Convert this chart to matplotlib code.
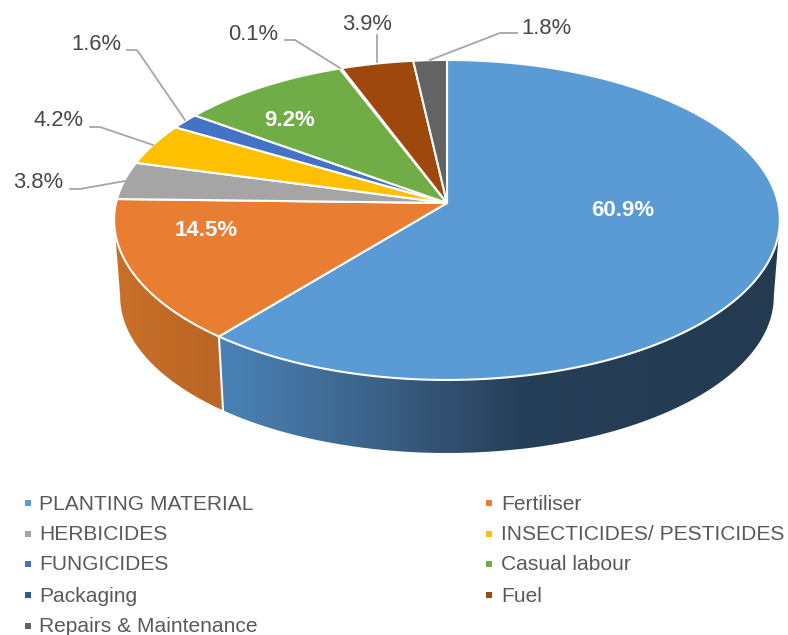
import numpy as np
import matplotlib
matplotlib.use('Agg')
import matplotlib.pyplot as plt
from matplotlib.colors import LinearSegmentedColormap
from matplotlib.patches import Polygon

categories = ['PLANTING MATERIAL', 'Fertiliser', 'HERBICIDES', 'INSECTICIDES/ PESTICIDES', 'FUNGICIDES',
              'Casual labour', 'Packaging', 'Fuel', 'Repairs & Maintenance']
shares = [60.9, 14.5, 3.8, 4.2, 1.6, 9.2, 0.1, 3.9, 1.8]
colors = ['#5b9bd5', '#e97d31', '#a5a5a5', '#ffc000', '#4472c4', '#70ad47', '#255e91', '#9e480e', '#636363']

# label text position, then leader line points (pixels)
outerLabels = {
    2: ((38, 183), [(70, 189), (80, 189), (125, 181)]),
    3: ((59, 121), [(90, 127), (100, 127), (153, 145)]),
    4: ((96, 44), [(127, 50), (137, 50), (185, 120)]),
    6: ((253, 35), [(285, 40), (295, 40), (340, 68)]),
    7: ((367, 25), [(377, 35), (377, 62)]),
    8: ((546, 29), [(517, 33), (500, 33), (430, 60)]),
}
innerLabels = {0: (623, 210), 1: (206, 231), 5: (290, 121)}

figW, figH = 788, 635
apexX, apexY = 447, 203
persp = 0.106
topA, topB = 331, 158.2
botA, botB, botY = 325, 155, 279.6
textColor = '#484848'
legendColor = '#595959'
lineColor = '#a6a6a6'
fontName = 'Liberation Sans'


def rim(deg, a, b, cy):
    # angle clockwise from the back of the pie, projected with a little perspective
    t = np.radians(deg)
    w = 1 + persp * np.cos(t)
    return apexX + a * np.sin(t) / w, cy - b * np.cos(t) / w


def wallShape(start, end):
    t = np.linspace(start, end, 200)
    x1, y1 = rim(t, topA, topB, apexY)
    x2, y2 = rim(t[::-1], botA, botB, botY)
    return np.column_stack([np.r_[x1, x2], np.r_[y1, y2]])


def drawWall(ax, start, end, stops):
    cmap = LinearSegmentedColormap.from_list('wall', stops)
    grad = np.linspace(0, 1, 788).reshape(1, -1)
    im = ax.imshow(grad, cmap=cmap, extent=(0, figW, figH, 0), aspect='auto', zorder=1)
    patch = Polygon(wallShape(start, end), closed=True, transform=ax.transData, facecolor='none', edgecolor='none')
    ax.add_patch(patch)
    im.set_clip_path(patch)


fig = plt.figure(figsize=(figW / 100, figH / 100), dpi=100)
ax = fig.add_axes([0, 0, 1, 1])

edges = np.cumsum([0] + shares) * 3.6

# side walls, only the front part can be seen
drawWall(ax, 96, edges[1], [(0, '#4a82b6'), (0.28, '#4a82b6'), (0.4, '#426f9a'), (0.52, '#38597c'), (0.66, '#263f58'), (1, '#233a50')])
drawWall(ax, edges[1], 264, [(0, '#c87029'), (0.15, '#c87029'), (0.28, '#bb6526'), (1, '#bb6526')])
x1, y1 = rim(edges[1], topA, topB, apexY)
x2, y2 = rim(edges[1], botA, botB, botY)
ax.plot([x1, x2], [y1, y2], color='white', lw=1.5, zorder=2)

# top face
for i, share in enumerate(shares):
    t = np.linspace(edges[i], edges[i + 1], max(int(share * 8), 3))
    xs, ys = rim(t, topA, topB, apexY)
    pts = np.column_stack([np.r_[apexX, xs], np.r_[apexY, ys]])
    ax.add_patch(Polygon(pts, closed=True, facecolor=colors[i], edgecolor='white', lw=1.5, joinstyle='round', zorder=3))

for i, (pos, leader) in outerLabels.items():
    ax.plot(*zip(*leader), color=lineColor, lw=1.3, zorder=4)
    ax.text(pos[0], pos[1], '{:.1f}%'.format(shares[i]), color=textColor, fontsize=15.8, family=fontName,
            ha='center', va='center', zorder=5)

for i, pos in innerLabels.items():
    ax.text(pos[0], pos[1], '{:.1f}%'.format(shares[i]), color='white', fontsize=16, family=fontName,
            fontweight='bold', ha='center', va='center', zorder=5)

# legend, filled column by column in two columns
legendRows = [504, 535, 565, 596, 627]
order = [0, 2, 4, 6, 8, 1, 3, 5, 7]
for n, i in enumerate(order):
    col = 0 if n < 5 else 1
    row = n if n < 5 else n - 5
    sx, tx = (28.5, 39) if col == 0 else (489.5, 501)
    ax.scatter([sx], [legendRows[row] - 1], marker='s', s=25, color=colors[i], linewidths=0, zorder=5)
    ax.text(tx, legendRows[row], categories[i], color=legendColor, fontsize=15.1, family=fontName,
            ha='left', va='center', zorder=5)

ax.set_xlim(0, figW)
ax.set_ylim(figH, 0)
ax.axis('off')
fig.savefig('out.png', dpi=100, facecolor='white')
